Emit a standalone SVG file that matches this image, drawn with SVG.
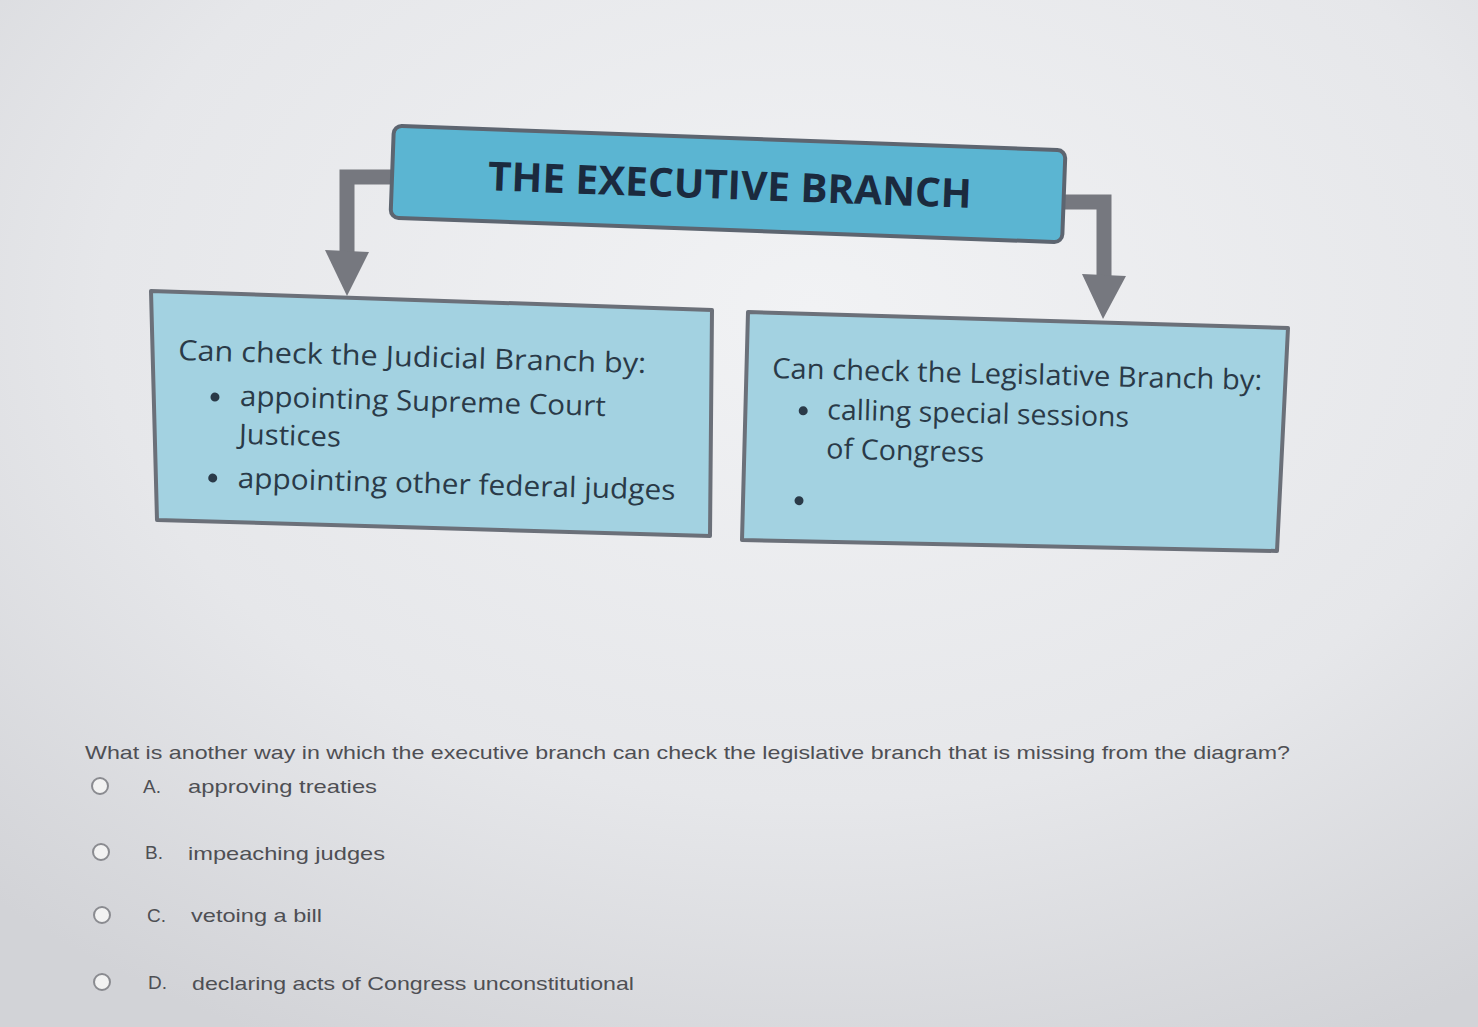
<svg xmlns="http://www.w3.org/2000/svg" width="1478" height="1027" viewBox="0 0 1478 1027">
<defs>
<radialGradient id="bg" cx="0.55" cy="0.3" r="0.8">
<stop offset="0" stop-color="#f1f2f4"/>
<stop offset="0.6" stop-color="#e6e7ea"/>
<stop offset="1" stop-color="#d2d3d7"/>
</radialGradient>
<style>
.box{fill:#a3d2e1;stroke:#6b7079;stroke-width:4;stroke-linejoin:round}
.title{fill:#5bb5d2;stroke:#5d6570;stroke-width:4}
.tt{font-family:"Open Sans","Noto Sans",sans-serif;font-weight:bold;font-size:40px;fill:#1b2a3e}
.bt{font-family:"Open Sans","Noto Sans",sans-serif;font-size:28px;fill:#2a3a48}
.bul{fill:#2a3a48}
.conn{fill:none;stroke:#76787f;stroke-width:15}
.head{fill:#76787f}
.q{font-family:"Liberation Sans",Arial,sans-serif;font-size:19px;fill:#4e4f54}
.radio{fill:#f2f2f2;stroke:#8a8b90;stroke-width:2}
</style>
</defs>
<rect width="1478" height="1027" fill="url(#bg)"/>
<g id="connectors">
<path class="conn" d="M394,177 H347 V256"/>
<polygon class="head" points="325,250 369,252 347,296"/>
<path class="conn" d="M1062,202 H1104 V278"/>
<polygon class="head" points="1082,274 1126,276 1103,319"/>
</g>
<g id="executive" transform="rotate(2.1 728 184)">
<rect class="title" x="392" y="138" width="672" height="92" rx="8"/>
<text class="tt" x="730" y="199" text-anchor="middle" textLength="484" lengthAdjust="spacingAndGlyphs">THE EXECUTIVE BRANCH</text>
</g>
<g id="judicial">
<polygon class="box" points="151,291 712,310 710,536 157,520"/>
<g transform="rotate(1.6 178 360)">
<text class="bt" x="178" y="360" textLength="468" lengthAdjust="spacingAndGlyphs">Can check the Judicial Branch by:</text>
<circle class="bul" cx="216" cy="396" r="4.5"/>
<text class="bt" x="241" y="404" textLength="366" lengthAdjust="spacingAndGlyphs">appointing Supreme Court</text>
<text class="bt" x="241" y="442" textLength="102" lengthAdjust="spacingAndGlyphs">Justices</text>
<circle class="bul" cx="216" cy="477" r="4.5"/>
<text class="bt" x="241" y="486" textLength="438" lengthAdjust="spacingAndGlyphs">appointing other federal judges</text>
</g>
</g>
<g id="legislative">
<polygon class="box" points="748,312 1288,328 1277,551 742,540"/>
<g transform="rotate(1.4 772 378)">
<text class="bt" x="772" y="378" textLength="490" lengthAdjust="spacingAndGlyphs">Can check the Legislative Branch by:</text>
<circle class="bul" cx="804" cy="410" r="4.5"/>
<text class="bt" x="828" y="418" textLength="302" lengthAdjust="spacingAndGlyphs">calling special sessions</text>
<text class="bt" x="828" y="457" textLength="158" lengthAdjust="spacingAndGlyphs">of Congress</text>
<circle class="bul" cx="802" cy="500" r="4.5"/>
</g>
</g>
<g id="question">
<text class="q" x="85" y="759" textLength="1205" lengthAdjust="spacingAndGlyphs">What is another way in which the executive branch can check the legislative branch that is missing from the diagram?</text>
<circle class="radio" cx="100" cy="786" r="8"/>
<text class="q" x="143" y="793">A.</text>
<text class="q" x="188" y="793" textLength="189" lengthAdjust="spacingAndGlyphs">approving treaties</text>
<circle class="radio" cx="101" cy="852" r="8"/>
<text class="q" x="145" y="859">B.</text>
<text class="q" x="188" y="860" textLength="197" lengthAdjust="spacingAndGlyphs">impeaching judges</text>
<circle class="radio" cx="102" cy="915" r="8"/>
<text class="q" x="147" y="922">C.</text>
<text class="q" x="191" y="922" textLength="131" lengthAdjust="spacingAndGlyphs">vetoing a bill</text>
<circle class="radio" cx="102" cy="982" r="8"/>
<text class="q" x="148" y="989">D.</text>
<text class="q" x="192" y="990" textLength="442" lengthAdjust="spacingAndGlyphs">declaring acts of Congress unconstitutional</text>
</g>
</svg>
